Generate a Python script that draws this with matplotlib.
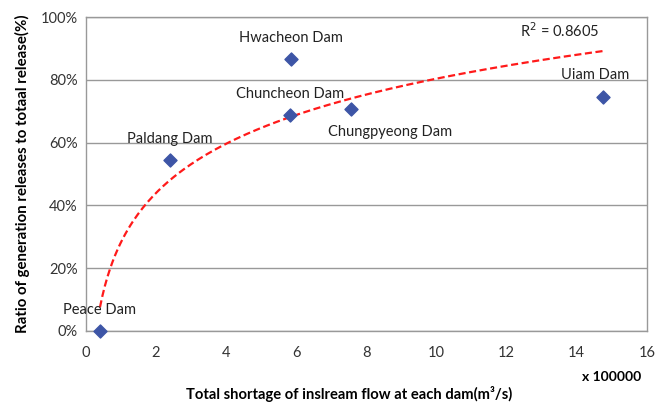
import numpy as np
import matplotlib.pyplot as plt
from matplotlib.ticker import PercentFormatter

dams = ["Peace Dam", "Paldang Dam", "Hwacheon Dam", "Chuncheon Dam", "Chungpyeong Dam", "Uiam Dam"]
shortage = [0.40, 2.40, 5.85, 5.82, 7.56, 14.75]   # x 100000 m3/s
ratio = [0.0, 54.5, 86.6, 68.8, 70.7, 74.5]          # %
r2_shown = "0.8605"

# label offsets (points) relative to each marker
offsets = {
    "Peace Dam": (0, 10),
    "Paldang Dam": (0, 10),
    "Hwacheon Dam": (0, 10),
    "Chuncheon Dam": (0, 10),
    "Chungpyeong Dam": (28, -21.5),
    "Uiam Dam": (-6, 11),
}

plt.rcParams['font.family'] = ['Lato', 'DejaVu Sans']

fig = plt.figure(figsize=(6.56, 4.05), dpi=100)
ax = fig.add_axes([0.131, 0.183, 0.855, 0.775])

# logarithmic trendline (as in Excel)
lx = np.log(shortage)
a, b = np.polyfit(lx, ratio, 1)
xs = np.linspace(min(shortage), max(shortage), 200)
ax.plot(xs, a * np.log(xs) + b, color='#ff1a1a', ls=(0, (3.2, 1.6)), lw=1.6, zorder=2)

ax.scatter(shortage, ratio, marker='D', s=44, color='#3d55a6', zorder=3, clip_on=False)

for name, x, y in zip(dams, shortage, ratio):
    ax.annotate(name, (x, y), xytext=offsets[name], textcoords='offset points',
                ha='center', va='bottom', fontsize=10.5, color='#222222')

ax.text(13.5, 95.5, f"R$^2$ = {r2_shown}", fontsize=10.5, color='#222222', ha='center', va='center')

ax.set_xlim(0, 16)
ax.set_ylim(0, 100)
ax.set_xticks(np.arange(0, 17, 2))
ax.set_yticks(np.arange(0, 101, 20))
ax.yaxis.set_major_formatter(PercentFormatter(decimals=0))
ax.tick_params(length=0, labelsize=10.5, colors='#333333', pad=6)
ax.tick_params(axis='x', pad=11)
ax.grid(axis='y', color='#999999', lw=1)
for s in ax.spines.values():
    s.set_color('#999999')
    s.set_linewidth(1)

fig.text(0.034, 0.57, "Ratio of generation releases to totaal release(%)", rotation=90,
         ha='center', va='center', fontsize=10.8, fontweight='bold')
fig.text(0.532, 0.028, "Total shortage of inslream flow at each dam(m³/s)",
         ha='center', va='center', fontsize=10.6, fontweight='bold')
fig.text(0.977, 0.068, "x 100000", ha='right', va='center', fontsize=10, fontweight='bold')

fig.savefig("out.png", dpi=100)
